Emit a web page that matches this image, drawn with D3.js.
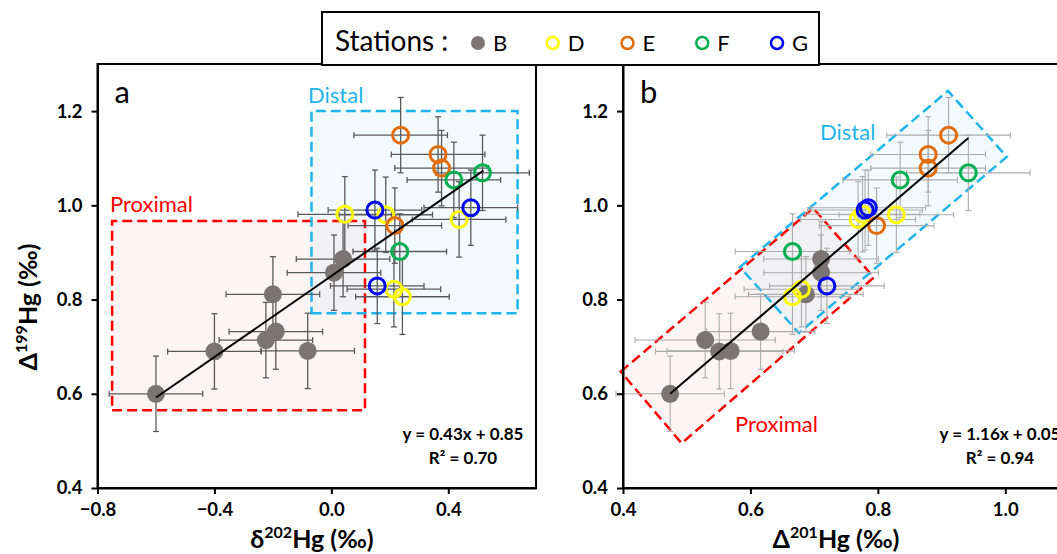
<!DOCTYPE html>
<html>
<head>
<meta charset="utf-8">
<script src="https://cdn.jsdelivr.net/npm/d3@7"></script>
<style>
  body { margin: 0; overflow: hidden; background: #fff; }
  text { font-family: Lato, "Open Sans", sans-serif; }
</style>
</head>
<body>
<div id="chart"></div>
<script>
// stations and their marker colours
const stations = ['B', 'D', 'E', 'F', 'G'];
const stationColors = ['#7a7474', '#ffff00', '#e26b0a', '#00b050', '#0000ff'];

// one entry per sample
const sampleStation = ['B', 'B', 'B', 'B', 'B', 'B', 'B', 'B',
  'D', 'D', 'D', 'D', 'D', 'E', 'E', 'E', 'E', 'F', 'F', 'F', 'G', 'G', 'G'];
const d202 = [-0.60, -0.40, -0.081, -0.224, -0.19, -0.20, 0.009, 0.04,
  0.046, 0.186, 0.437, 0.214, 0.243, 0.237, 0.365, 0.377, 0.217, 0.517, 0.419, 0.234, 0.149, 0.477, 0.157];
const d201 = [0.474, 0.551, 0.569, 0.529, 0.616, 0.687, 0.711, 0.711,
  0.776, 0.829, 0.769, 0.680, 0.666, 0.911, 0.879, 0.879, 0.798, 0.942, 0.835, 0.666, 0.780, 0.785, 0.720];
const d199 = [0.600, 0.690, 0.691, 0.714, 0.732, 0.811, 0.857, 0.886,
  0.981, 0.980, 0.970, 0.822, 0.806, 1.149, 1.108, 1.079, 0.957, 1.069, 1.054, 0.902, 0.990, 0.995, 0.829];
const err202 = [0.16, 0.16, 0.16, 0.16, 0.16, 0.16, 0.16, 0.16,
  0.16, 0.16, 0.16, 0.16, 0.16, 0.16, 0.16, 0.16, 0.16, 0.16, 0.16, 0.16, 0.16, 0.16, 0.16];
const err201 = [0.085, 0.10, 0.10, 0.11, 0.085, 0.09, 0.09, 0.09,
  0.09, 0.09, 0.09, 0.09, 0.09, 0.097, 0.09, 0.09, 0.09, 0.097, 0.09, 0.09, 0.09, 0.09, 0.09];
const err199 = [0.08, 0.08, 0.08, 0.08, 0.08, 0.08, 0.08, 0.08,
  0.08, 0.08, 0.08, 0.08, 0.08, 0.08, 0.08, 0.08, 0.08, 0.08, 0.08, 0.08, 0.085, 0.08, 0.08];

// axis ticks
const xTicksA = [-0.8, -0.4, 0.0, 0.4];
const xTicksB = [0.4, 0.6, 0.8, 1.0];
const yTicks = [0.4, 0.6, 0.8, 1.0, 1.2];

// linear fits: slope, intercept, x range
const fitA = [0.43, 0.85, -0.60, 0.52];
const fitB = [1.16, 0.05, 0.474, 0.942];
const fitTextA = ['y = 0.43x + 0.85', 'R² = 0.70'];
const fitTextB = ['y = 1.16x + 0.05', 'R² = 0.94'];

// grouping zones (data coordinates)
const proximalA = [[-0.75, 0.565], [0.115, 0.565], [0.115, 0.967], [-0.75, 0.967]];
const distalA = [[-0.068, 0.771], [0.637, 0.771], [0.637, 1.2], [-0.068, 1.2]];
const proximalB = [[0.3964, 0.647], [0.6985, 0.994], [0.7937, 0.847], [0.492, 0.495]];
const distalB = [[0.5835, 0.869], [0.910, 1.243], [1.0024, 1.103], [0.676, 0.729]];

const samples = sampleStation.map((s, i) => ({
  station: s, d202: d202[i], d201: d201[i], d199: d199[i],
  e202: err202[i], e201: err201[i], e199: err199[i]
}));

const color = d3.scaleOrdinal().domain(stations).range(stationColors);

const svg = d3.select('#chart').append('svg')
  .attr('width', 1100)
  .attr('height', 554);

const y = d3.scaleLinear().domain([0.4, 1.3]).range([488, 64]);
const xA = d3.scaleLinear().domain([-0.8, 0.7]).range([97.5, 536]);
const xB = d3.scaleLinear().domain([0.4, 1.1]).range([623, 1069]);

function drawPanel(opts) {
  const x = opts.x;
  const g = svg.append('g');
  const line = d3.line().x(d => x(d[0])).y(d => y(d[1]));

  // zone fills
  g.append('path').attr('d', line(opts.proximal) + 'Z')
    .attr('fill', 'rgba(235,130,130,0.085)');
  g.append('path').attr('d', line(opts.distal) + 'Z')
    .attr('fill', 'rgba(120,200,235,0.085)');

  // zone outlines
  g.append('path').attr('d', line(opts.proximal) + 'Z')
    .attr('fill', 'none').attr('stroke', '#ff0000')
    .attr('stroke-width', 2.5).attr('stroke-dasharray', '10,5');
  g.append('path').attr('d', line(opts.distal) + 'Z')
    .attr('fill', 'none').attr('stroke', '#1fb4ec')
    .attr('stroke-width', 2.5).attr('stroke-dasharray', '10,5');

  // error bars
  const eb = g.append('g')
    .attr('stroke', opts.errColor)
    .attr('stroke-width', opts.errWidth);
  samples.forEach(d => {
    const cx = x(d[opts.key]), cy = y(d.d199);
    const x0 = x(d[opts.key] - d[opts.errKey]), x1 = x(d[opts.key] + d[opts.errKey]);
    const y0 = y(d.d199 - d.e199), y1 = y(d.d199 + d.e199);
    eb.append('line').attr('x1', x0).attr('x2', x1).attr('y1', cy).attr('y2', cy);
    eb.append('line').attr('x1', x0).attr('x2', x0).attr('y1', cy - 3).attr('y2', cy + 3);
    eb.append('line').attr('x1', x1).attr('x2', x1).attr('y1', cy - 3).attr('y2', cy + 3);
    eb.append('line').attr('x1', cx).attr('x2', cx).attr('y1', y0).attr('y2', y1);
    eb.append('line').attr('x1', cx - 3).attr('x2', cx + 3).attr('y1', y0).attr('y2', y0);
    eb.append('line').attr('x1', cx - 3).attr('x2', cx + 3).attr('y1', y1).attr('y2', y1);
  });

  // points
  g.selectAll('.pt').data(samples).enter()
    .append('circle')
    .attr('class', 'pt')
    .attr('cx', d => x(d[opts.key]))
    .attr('cy', d => y(d.d199))
    .attr('r', d => d.station === 'B' ? 9 : 8)
    .attr('fill', d => d.station === 'B' ? color('B') : 'none')
    .attr('stroke', d => d.station === 'B' ? 'none' : color(d.station))
    .attr('stroke-width', 3);

  // fit line
  const f = opts.fit;
  g.append('line')
    .attr('x1', x(f[2])).attr('y1', y(f[0] * f[2] + f[1]))
    .attr('x2', x(f[3])).attr('y2', y(f[0] * f[3] + f[1]))
    .attr('stroke', '#000').attr('stroke-width', 2);

  // frame
  g.append('rect')
    .attr('x', x.range()[0]).attr('y', y.range()[1])
    .attr('width', x.range()[1] - x.range()[0])
    .attr('height', y.range()[0] - y.range()[1])
    .attr('fill', 'none').attr('stroke', '#000').attr('stroke-width', 2);

  // axes
  const xAxis = g.append('g')
    .attr('transform', 'translate(0,488)')
    .call(d3.axisBottom(x).tickValues(opts.xTicks).tickFormat(d3.format('.1f'))
      .tickSize(6).tickSizeOuter(0).tickPadding(9));
  const yAxis = g.append('g')
    .attr('transform', 'translate(' + x.range()[0] + ',0)')
    .call(d3.axisLeft(y).tickValues(yTicks).tickFormat(d3.format('.1f'))
      .tickSize(6).tickSizeOuter(0).tickPadding(9));
  [xAxis, yAxis].forEach(a => {
    a.select('.domain').attr('stroke-width', 2);
    a.selectAll('.tick line').attr('stroke-width', 2);
    a.selectAll('.tick text')
      .style('font-family', 'Lato, sans-serif')
      .attr('font-size', 18.5).attr('font-weight', 'bold').attr('fill', '#000');
  });

  // panel letter
  g.append('text').attr('x', x.range()[0] + 17).attr('y', 103)
    .attr('font-size', 31).text(opts.letter);

  // zone labels
  g.append('text').attr('x', opts.proxLabel[0]).attr('y', opts.proxLabel[1])
    .attr('font-size', 22).attr('fill', '#ff0000').text('Proximal');
  g.append('text').attr('x', opts.distLabel[0]).attr('y', opts.distLabel[1])
    .attr('font-size', 22).attr('fill', '#1fb4ec').text('Distal');

  // fit equation
  g.append('text').attr('x', opts.eqX).attr('y', 440)
    .attr('text-anchor', 'middle').attr('font-size', 17).attr('font-weight', 'bold')
    .text(opts.fitText[0]);
  g.append('text').attr('x', opts.eqX).attr('y', 464)
    .attr('text-anchor', 'middle').attr('font-size', 17).attr('font-weight', 'bold')
    .text(opts.fitText[1]);

  // x axis title
  const title = g.append('text').attr('x', opts.titleX).attr('y', 548)
    .attr('text-anchor', 'middle').attr('font-size', 25).attr('font-weight', 'bold');
  title.append('tspan').text(opts.titleSym);
  title.append('tspan').attr('font-size', 16).attr('dy', -10).text(opts.titleIso);
  title.append('tspan').attr('dy', 10).text('Hg (‰)');
}

drawPanel({
  x: xA, key: 'd202', errKey: 'e202', xTicks: xTicksA, fit: fitA, fitText: fitTextA,
  proximal: proximalA, distal: distalA, letter: 'a',
  errColor: '#5a5a5a', errWidth: 1.3,
  proxLabel: [110, 212], distLabel: [308, 103], eqX: 463,
  titleX: 312, titleSym: 'δ', titleIso: '202'
});

drawPanel({
  x: xB, key: 'd201', errKey: 'e201', xTicks: xTicksB, fit: fitB, fitText: fitTextB,
  proximal: proximalB, distal: distalB, letter: 'b',
  errColor: '#ababab', errWidth: 1.1,
  proxLabel: [735, 432], distLabel: [820, 140], eqX: 1000,
  titleX: 836, titleSym: 'Δ', titleIso: '201'
});

// y axis title (panel a only)
const yt = svg.append('text')
  .attr('transform', 'translate(37,307) rotate(-90)')
  .attr('text-anchor', 'middle').attr('font-size', 25).attr('font-weight', 'bold');
yt.append('tspan').text('Δ');
yt.append('tspan').attr('font-size', 16).attr('dy', -10).text('199');
yt.append('tspan').attr('dy', 10).text('Hg (‰)');

// legend
const legend = svg.append('g');
legend.append('rect')
  .attr('x', 322).attr('y', 12).attr('width', 497).attr('height', 53)
  .attr('fill', '#fff').attr('stroke', '#000').attr('stroke-width', 2);
legend.append('text').attr('x', 335).attr('y', 51)
  .attr('font-size', 28).text('Stations :');
const lx = d3.scalePoint().domain(stations).range([478, 777]);
stations.forEach(s => {
  legend.append('circle')
    .attr('cx', lx(s)).attr('cy', 43)
    .attr('r', s === 'B' ? 7 : 6)
    .attr('fill', s === 'B' ? color(s) : 'none')
    .attr('stroke', s === 'B' ? 'none' : color(s))
    .attr('stroke-width', 2.5);
  legend.append('text').attr('x', lx(s) + 15).attr('y', 51)
    .attr('font-size', 22).text(s);
});
</script>
</body>
</html>
